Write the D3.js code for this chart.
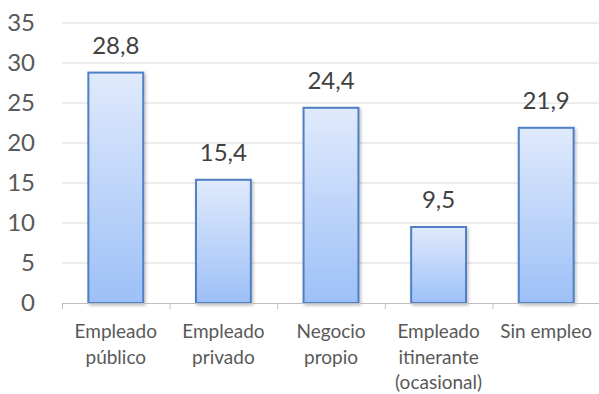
<!DOCTYPE html>
<html>
<head>
<meta charset="utf-8">
<script src="https://cdn.jsdelivr.net/npm/d3@7"></script>
<style>
  html, body { margin: 0; padding: 0; background: #fff; }
  svg { display: block; font-family: Lato, "Open Sans", sans-serif; }
</style>
</head>
<body>
<svg id="chart" width="599" height="394"></svg>
<script>
// Categories (multi-line labels) and their values
const categories = [
  ["Empleado", "público"],
  ["Empleado", "privado"],
  ["Negocio", "propio"],
  ["Empleado", "itinerante", "(ocasional)"],
  ["Sin empleo"]
];
const values = [28.8, 15.4, 24.4, 9.5, 21.9];
const valueLabels = ["28,8", "15,4", "24,4", "9,5", "21,9"];
const yTicks = [0, 5, 10, 15, 20, 25, 30, 35];

const svg = d3.select("#chart");
const margin = { left: 62, right: 0, top: 23, bottom: 91 };
const W = 599, H = 394;

const keys = categories.map((c, i) => i);
const x = d3.scaleBand().domain(keys).range([margin.left, 600]).paddingInner(0.49).paddingOuter(0.245);
const xTickScale = d3.scaleBand().domain(keys).range([margin.left, 600]);
const y = d3.scaleLinear().domain([0, 35]).range([H - margin.bottom, margin.top]);

const defs = svg.append("defs");
const grad = defs.append("linearGradient").attr("id", "barFill")
  .attr("x1", 0).attr("y1", 0).attr("x2", 0).attr("y2", 1);
grad.append("stop").attr("offset", "0%").attr("stop-color", "#e0eafc");
grad.append("stop").attr("offset", "100%").attr("stop-color", "#9dc0f7");
const shadow = defs.append("filter").attr("id", "shadow").attr("x", "-20%").attr("y", "-20%").attr("width", "140%").attr("height", "140%");
shadow.append("feDropShadow").attr("dx", 1.5).attr("dy", 1.5).attr("stdDeviation", 1.5).attr("flood-color", "#000").attr("flood-opacity", 0.25);

// Horizontal gridlines
svg.append("g").selectAll("line").data(yTicks.filter(t => t > 0)).join("line")
  .attr("x1", margin.left).attr("x2", 599)
  .attr("y1", d => y(d)).attr("y2", d => y(d))
  .attr("stroke", "#d9d9d9").attr("stroke-width", 1);

// Y axis labels
const yAxis = svg.append("g").attr("transform", `translate(${margin.left},0)`)
  .call(d3.axisLeft(y).tickValues(yTicks).tickSize(0).tickPadding(27));
yAxis.select(".domain").remove();
yAxis.selectAll("text").attr("font-size", 24).attr("fill", "#595959")
  .attr("font-family", "Lato, 'Open Sans', sans-serif");

// Bars
svg.append("g").selectAll("rect").data(values).join("rect")
  .attr("x", (d, i) => x(i))
  .attr("y", d => y(d))
  .attr("width", x.bandwidth())
  .attr("height", d => y(0) - y(d))
  .attr("fill", "url(#barFill)")
  .attr("stroke", "#4f7fc4")
  .attr("stroke-width", 2)
  .attr("filter", "url(#shadow)");

// Value labels
svg.append("g").selectAll("text").data(values).join("text")
  .attr("x", (d, i) => x(i) + x.bandwidth() / 2)
  .attr("y", d => y(d) - 19)
  .attr("text-anchor", "middle")
  .attr("font-size", 24)
  .attr("fill", "#404040")
  .text((d, i) => valueLabels[i]);

// X axis line with tick marks at band boundaries
const axisG = svg.append("g");
axisG.append("line")
  .attr("x1", margin.left).attr("x2", 599)
  .attr("y1", y(0) + 0.5).attr("y2", y(0) + 0.5)
  .attr("stroke", "#bfbfbf").attr("stroke-width", 1);
axisG.selectAll("line.tick").data(keys).join("line").attr("class", "tick")
  .attr("x1", d => xTickScale(d) + 0.5).attr("x2", d => xTickScale(d) + 0.5)
  .attr("y1", y(0)).attr("y2", y(0) + 6)
  .attr("stroke", "#bfbfbf");

// Category labels
const catG = svg.append("g").selectAll("text").data(categories).join("text")
  .attr("x", (d, i) => xTickScale(i) + xTickScale.bandwidth() / 2)
  .attr("y", 338)
  .attr("text-anchor", "middle")
  .attr("font-size", 19)
  .attr("fill", "#595959");
catG.selectAll("tspan").data(d => d).join("tspan")
  .attr("x", function() { return d3.select(this.parentNode).attr("x"); })
  .attr("dy", (d, j) => j === 0 ? 0 : 25.5)
  .text(d => d);
</script>
</body>
</html>
